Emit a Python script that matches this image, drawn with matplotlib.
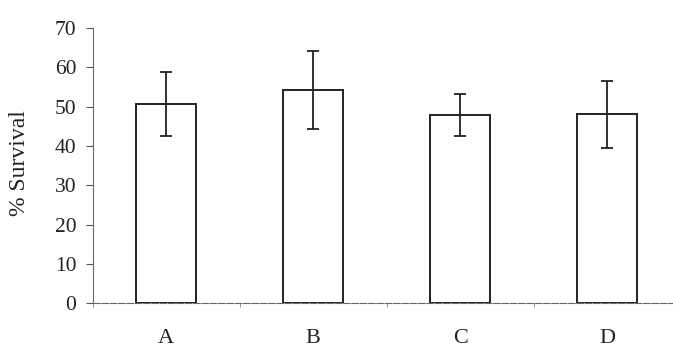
import matplotlib
matplotlib.use("Agg")
import matplotlib.pyplot as plt
import numpy as np

groups = ['A', 'B', 'C', 'D']
survival = [50.7, 54.2, 47.8, 48.0]
err = [8.1, 10.0, 5.4, 8.5]
yticks = [0, 10, 20, 30, 40, 50, 60, 70]

plt.rcParams['font.family'] = ['Liberation Serif', 'DejaVu Serif']

fig = plt.figure(figsize=(6.73, 3.5), dpi=100)
ax = fig.add_axes([0.138, 0.134, 0.873, 0.786])

x = np.arange(len(groups))
ax.bar(x, survival, width=0.41, color='white', edgecolor='#222222', linewidth=1.4,
       yerr=err, capsize=4.5, error_kw={'elinewidth': 1.3, 'capthick': 1.3, 'ecolor': '#222222'})

ax.set_xlim(-0.5, 3.5)
ax.set_ylim(0, 70)
ax.set_yticks(yticks)
ax.set_xticks(x)
ax.set_xticklabels(groups)
ax.set_xticks(np.arange(-0.5, 4, 1), minor=True)

for s in ['top', 'right']:
    ax.spines[s].set_visible(False)
ax.spines['left'].set_color('#666666')
ax.spines['left'].set_linewidth(0.8)
ax.spines['left'].set_linestyle((0, (4, 1)))
ax.spines['bottom'].set_color('#666666')
ax.spines['bottom'].set_linewidth(0.8)
ax.spines['bottom'].set_linestyle((0, (6, 1.5)))

ax.tick_params(axis='y', direction='out', length=5, width=0.8, color='#555555',
               labelsize=15.5, pad=7, labelcolor='#222222')
ax.tick_params(axis='x', which='major', length=0, labelsize=16, pad=19, labelcolor='#222222')
ax.tick_params(axis='x', which='minor', direction='out', length=3, width=0.6, color='#888888')

ax.set_ylabel('% Survival', fontsize=17, color='#222222')
ax.yaxis.set_label_coords(-0.107, 0.51)

plt.savefig('out.png', dpi=100)
